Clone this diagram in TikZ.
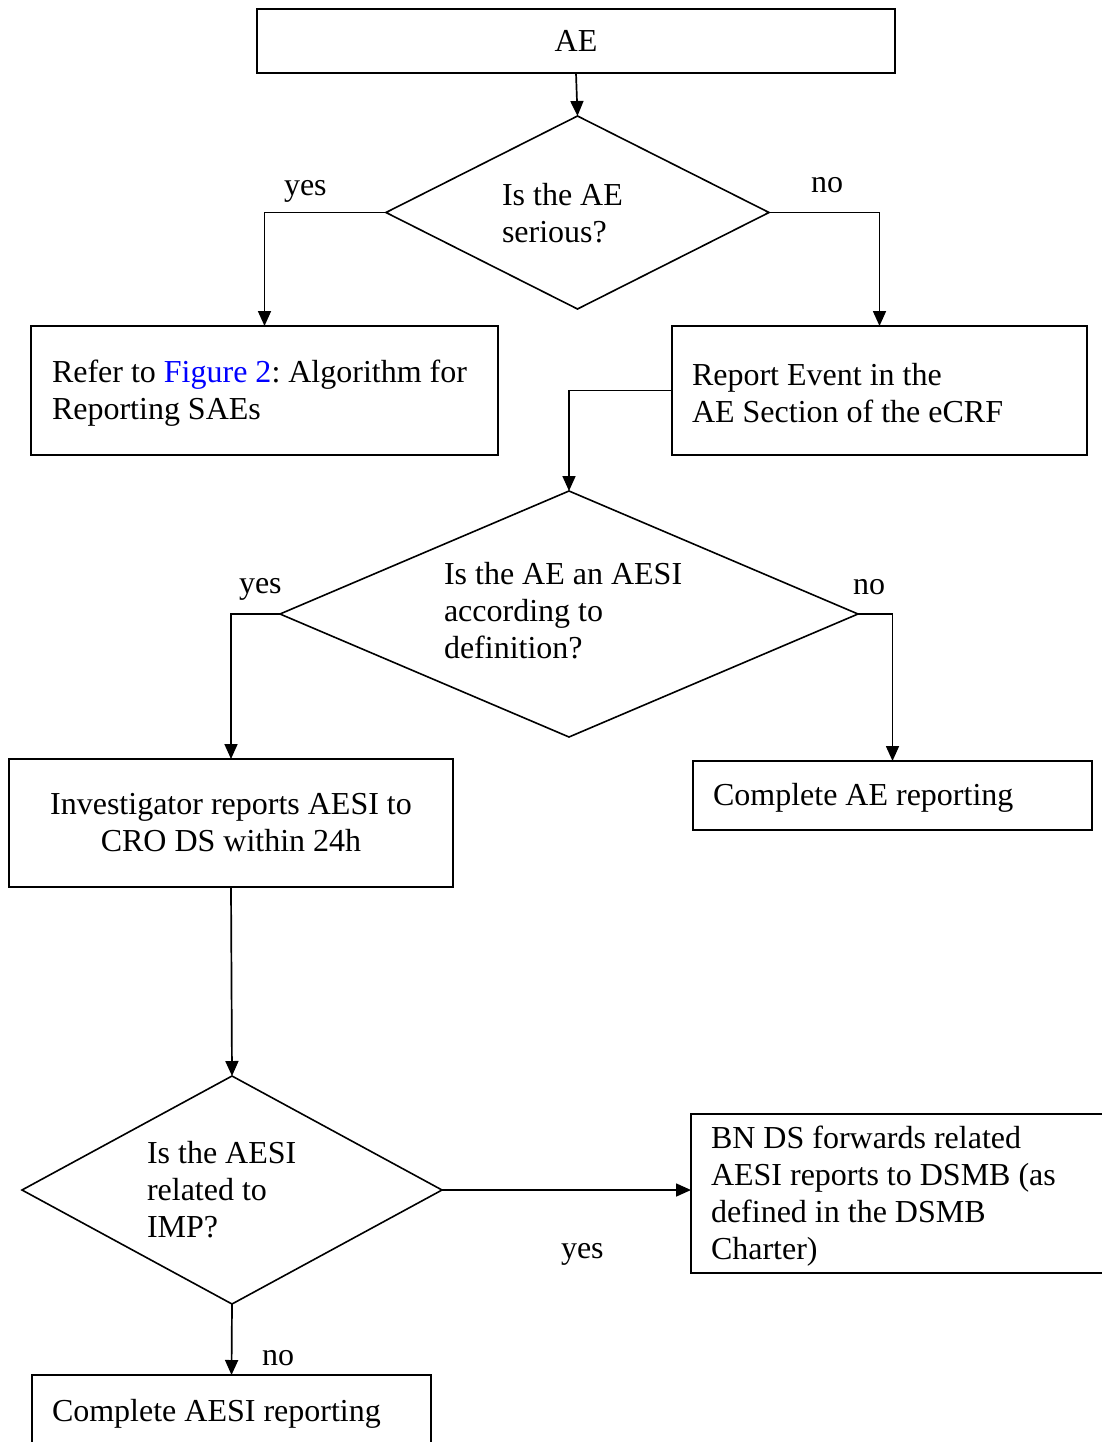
\documentclass[tikz,border=0pt]{standalone}
\usepackage{fontspec}
\setmainfont{Liberation Serif}
\usetikzlibrary{shapes.geometric,arrows.meta}
\definecolor{linkblue}{RGB}{0,0,255}
\frenchspacing
\newcommand{\topstrut}[1]{\rule{0pt}{#1pt}}
\tikzset{
  every node/.style={font=\fontsize{32}{37}\selectfont, inner sep=0pt, outer sep=0pt},
  box/.style={draw, line width=1.8pt, rectangle},
  dia/.style={draw, line width=1.6pt, diamond},
  lbl/.style={anchor=base west},
  dtext/.style={anchor=base west, align=left},
  arr/.style={line width=1.7pt, -{Triangle[length=15pt,width=13pt]}},
}
\begin{document}
\begin{tikzpicture}[x=1pt,y=-1pt]
\fill[white] (0,0) rectangle (1102,1442);
\useasboundingbox (0,0) rectangle (1102,1442);

% boxes
\node[box, minimum width=638, minimum height=64] (ae) at (576,41) {AE};
\node[box, minimum width=467, minimum height=129, text width=425, align=flush left] (refer) at (264.5,390.5)
  {\topstrut{28}Refer to \textcolor{linkblue}{Figure 2}: Algorithm for\\Reporting SAEs};
\node[box, minimum width=415, minimum height=129, text width=375, align=flush left] (report) at (879.5,390.5)
  {\topstrut{28}Report Event in the\\AE Section of the eCRF};
\node[box, minimum width=444, minimum height=128, align=flush center] (inv) at (231,823)
  {Investigator reports AESI to\\CRO DS within 24h};
\node[box, minimum width=399, minimum height=69, text width=359, align=flush left] (cae) at (892.5,795.5)
  {\topstrut{26}Complete AE reporting};
\node[box, minimum width=440, minimum height=159, text width=400, align=flush left] (bn) at (911,1193.5)
  {\topstrut{28}BN DS forwards related\\AESI reports to DSMB (as\\defined in the DSMB\\Charter)};
\node[box, minimum width=399, minimum height=78, text width=359, align=flush left] (caesi) at (231.5,1414)
  {Complete AESI reporting};

% diamonds
\node[dia, minimum width=383, minimum height=193] (d1) at (577.5,212.5) {};
\node[dia, minimum width=578, minimum height=246] (d2) at (569,614) {};
\node[dia, minimum width=420, minimum height=228] (d3) at (232,1190) {};

% diamond texts (anchored at the baseline of their last line)
\node[dtext] (t1) at (502,242) {Is the AE\\serious?};
\node[dtext] (t2) at (444,658) {Is the AE an AESI\\according to\\definition?};
\node[dtext] (t3) at (147,1237) {Is the AESI\\related to\\IMP?};

% labels
\node[lbl] (y1) at (284,196) {yes};
\node[lbl] (n1) at (811,193) {no};
\node[lbl] (y2) at (239,593) {yes};
\node[lbl] (n2) at (853,594) {no};
\node[lbl] (y3) at (561,1258) {yes};
\node[lbl] (n3) at (262,1365) {no};

% connectors
\draw[arr] (ae.south) -- (d1.north);
\draw[arr] (d1.west) -| (refer.north);
\draw[arr] (d1.east) -| (report.north);
\draw[arr] (report.west) -| (d2.north);
\draw[arr] (d2.west) -| (inv.north);
\draw[arr] (d2.east) -| (cae.north);
\draw[arr] (inv.south) -- (d3.north);
\draw[arr] (d3.east) -- (d3.east -| bn.west);
\draw[arr] (d3.south) -- (caesi.north);
\end{tikzpicture}
\end{document}
